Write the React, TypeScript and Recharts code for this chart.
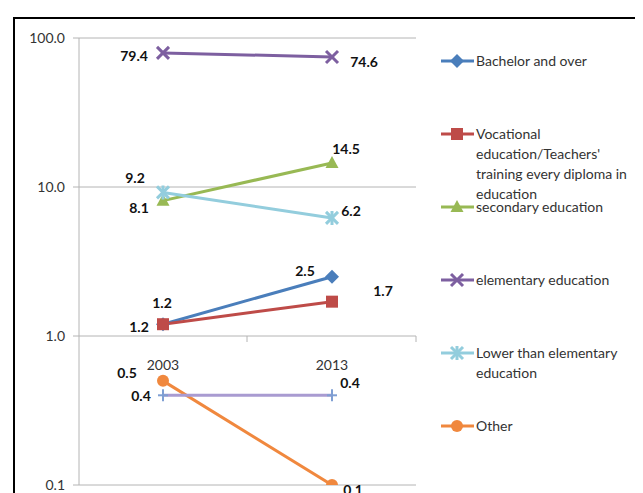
import React from "react";
import { LineChart, Line, XAxis, YAxis, CartesianGrid, LabelList } from "recharts";

// values
const years = ["2003", "2013"];
const bachelor = [1.2, 2.5];
const vocational = [1.2, 1.7];
const secondary = [8.1, 14.5];
const elementary = [79.4, 74.6];
const lowerElementary = [9.2, 6.2];
const other = [0.5, 0.1];
const unnamed = [0.4, 0.4];
const yTicks = [0.1, 1, 10, 100];

const data = years.map((year, i) => ({
  year,
  bachelor: bachelor[i],
  vocational: vocational[i],
  secondary: secondary[i],
  elementary: elementary[i],
  lowerElementary: lowerElementary[i],
  other: other[i],
  unnamed: unnamed[i],
}));

const FONT = "Lato, 'Liberation Sans', sans-serif";
const GRID = "#b4b4b4";
const HALF_BAND = 84;
const AXIS_LABEL_Y = 356;

type Series = {
  key: string;
  name: string[] | null;
  color: string;
  markerColor: string;
  shape: string;
  labelOffsets: [number, number][];
};

const SERIES: Series[] = [
  { key: "bachelor", name: ["Bachelor and over"], color: "#4a7ebb", markerColor: "#4a7ebb", shape: "diamond", labelOffsets: [[-1, -22], [-27, -6]] },
  { key: "vocational", name: ["Vocational", "education/Teachers'", "training every diploma in", "education"], color: "#be4b48", markerColor: "#be4b48", shape: "square", labelOffsets: [[-24, 2], [51, -11]] },
  { key: "secondary", name: ["secondary education"], color: "#98b954", markerColor: "#98b954", shape: "triangle", labelOffsets: [[-24, 7], [14, -14]] },
  { key: "elementary", name: ["elementary education"], color: "#7d5fa0", markerColor: "#7d5fa0", shape: "x", labelOffsets: [[-29, 3], [32, 5]] },
  { key: "lowerElementary", name: ["Lower than elementary", "education"], color: "#93cddd", markerColor: "#93cddd", shape: "star", labelOffsets: [[-28, -15], [19, -7]] },
  { key: "other", name: ["Other"], color: "#f0883e", markerColor: "#f0883e", shape: "circle", labelOffsets: [[-36, -8], [21, 4]] },
  { key: "unnamed", name: null, color: "#a99bd1", markerColor: "#7f9fd3", shape: "plus", labelOffsets: [[-22, 0], [18, -13]] },
];

function Marker({ shape, color, cx, cy }: { shape: string; color: string; cx: number; cy: number }) {
  switch (shape) {
    case "diamond":
      return <polygon points={`${cx},${cy - 7} ${cx + 7},${cy} ${cx},${cy + 7} ${cx - 7},${cy}`} fill={color} />;
    case "square":
      return <rect x={cx - 6} y={cy - 6} width={12} height={12} fill={color} />;
    case "triangle":
      return <polygon points={`${cx},${cy - 7} ${cx + 6.5},${cy + 5} ${cx - 6.5},${cy + 5}`} fill={color} />;
    case "x":
      return (
        <g stroke={color} strokeWidth={3}>
          <line x1={cx - 6} y1={cy - 6} x2={cx + 6} y2={cy + 6} />
          <line x1={cx - 6} y1={cy + 6} x2={cx + 6} y2={cy - 6} />
        </g>
      );
    case "star":
      return (
        <g stroke={color} strokeWidth={3}>
          <line x1={cx - 6} y1={cy - 6} x2={cx + 6} y2={cy + 6} />
          <line x1={cx - 6} y1={cy + 6} x2={cx + 6} y2={cy - 6} />
          <line x1={cx} y1={cy - 7} x2={cx} y2={cy + 7} />
        </g>
      );
    case "circle":
      return <circle cx={cx} cy={cy} r={6} fill={color} />;
    case "plus":
      return (
        <g stroke={color} strokeWidth={2}>
          <line x1={cx - 5} y1={cy} x2={cx + 5} y2={cy} />
          <line x1={cx} y1={cy - 6} x2={cx} y2={cy + 6} />
        </g>
      );
    default:
      return null;
  }
}

function XTick(props: any) {
  const { x, payload } = props;
  return (
    <g>
      <line x1={x + HALF_BAND} y1={328} x2={x + HALF_BAND} y2={334} stroke={GRID} />
      <text x={x} y={AXIS_LABEL_Y} textAnchor="middle" dominantBaseline="central" fontSize={14} fill="#333" fontFamily={FONT}>
        {payload.value}
      </text>
    </g>
  );
}

function Legend() {
  const items = SERIES.filter((s) => s.name);
  return (
    <div style={{ position: "absolute", left: 433, top: 43, fontFamily: FONT, fontSize: 14, color: "#333", lineHeight: "20px" }}>
      {items.map((s, i) => (
        <div key={s.key} style={{ position: "absolute", top: i * 73, left: 0, display: "flex", width: 200 }}>
          <svg width={33} height={20} style={{ flexShrink: 0 }}>
            <line x1={0} y1={10} x2={33} y2={10} stroke={s.color} strokeWidth={3} />
            <Marker shape={s.shape} color={s.markerColor} cx={16} cy={10} />
          </svg>
          <div style={{ marginLeft: 2, whiteSpace: "nowrap" }}>
            {s.name!.map((line) => (
              <div key={line}>{line}</div>
            ))}
          </div>
        </div>
      ))}
    </div>
  );
}

export default function App() {
  return (
    <div style={{ position: "relative", width: 635, height: 485, overflow: "hidden", background: "#fff" }}>
      <div style={{ position: "absolute", left: 5, top: 9, width: 800, height: 800, border: "2px solid #000" }} />
      <div style={{ position: "absolute", left: 0, top: 0 }}>
        <LineChart width={635} height={485} data={data} margin={{ top: 30, right: 227, bottom: 7, left: 11 }}>
          <CartesianGrid horizontal vertical={false} stroke={GRID} strokeWidth={1} />
          <XAxis
            dataKey="year"
            height={1}
            axisLine={false}
            tickLine={false}
            padding={{ left: HALF_BAND, right: HALF_BAND }}
            tick={<XTick />}
            interval={0}
          />
          <YAxis
            scale="log"
            domain={[0.1, 100]}
            ticks={yTicks}
            allowDataOverflow
            width={60}
            axisLine={{ stroke: GRID }}
            tickLine={{ stroke: GRID }}
            tickSize={6}
            tickMargin={8}
            tickFormatter={(v: number) => v.toFixed(1)}
            tick={{ fontSize: 14, fill: "#333", fontFamily: FONT }}
            interval={0}
          />
          {SERIES.map((s) => (
            <Line
              key={s.key}
              dataKey={s.key}
              stroke={s.color}
              strokeWidth={3}
              isAnimationActive={false}
              dot={(p: any) => <Marker key={`${s.key}-${p.index}`} shape={s.shape} color={s.markerColor} cx={p.cx} cy={p.cy} />}
              activeDot={false}
            >
              <LabelList
                dataKey={s.key}
                content={(p: any) => {
                  const [dx, dy] = s.labelOffsets[p.index] || [0, 0];
                  return (
                    <text
                      x={p.x + dx}
                      y={p.y + dy}
                      textAnchor="middle"
                      dominantBaseline="central"
                      fontSize={14}
                      fontWeight="bold"
                      fill="#111"
                      fontFamily={FONT}
                    >
                      {Number(p.value).toFixed(1)}
                    </text>
                  );
                }}
              />
            </Line>
          ))}
        </LineChart>
      </div>
      <Legend />
    </div>
  );
}
